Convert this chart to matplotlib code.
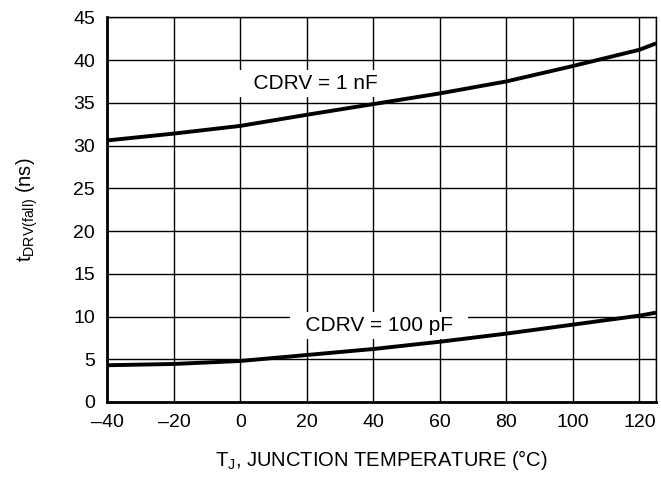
import matplotlib
matplotlib.use("Agg")
import matplotlib.pyplot as plt
import numpy as np

temps = [-40, -20, 0, 20, 40, 60, 80, 100, 120, 125]
t_1nF = [30.6, 31.4, 32.3, 33.6, 34.85, 36.1, 37.5, 39.3, 41.2, 41.95]
t_100pF = [4.3, 4.45, 4.8, 5.5, 6.2, 7.05, 8.0, 9.05, 10.1, 10.45]
xticks = [-40, -20, 0, 20, 40, 60, 80, 100, 120]
xticklabels = ["\u201340", "\u201320", "0", "20", "40", "60", "80", "100", "120"]
yticks = [0, 5, 10, 15, 20, 25, 30, 35, 40, 45]

plt.rcParams['font.family'] = ['Liberation Sans', 'DejaVu Sans']

fig = plt.figure(figsize=(6.61, 4.78), dpi=100)
ax = fig.add_axes([0.1626, 0.159, 0.8298, 0.8048])

ax.set_xlim(-40, 125)
ax.set_ylim(0, 45)
for x in xticks + [125]:
    ax.axvline(x, color='black', lw=1.0, zorder=1)
for y in yticks:
    ax.axhline(y, color='black', lw=1.0, zorder=1)

ax.plot(temps, t_1nF, color='black', lw=2.8, zorder=3, solid_capstyle='butt')
ax.plot(temps, t_100pF, color='black', lw=2.8, zorder=3, solid_capstyle='butt')

bbox = dict(facecolor='white', edgecolor='none', pad=3)
ax.text(41.4, 36.64, "  CDRV = 1 nF", ha='right', va='baseline', fontsize=15,
        bbox=bbox, zorder=2)
ax.text(41.66, 8.34, "  CDRV = 100 pF  ", ha='center', va='baseline', fontsize=15,
        bbox=bbox, zorder=2)

ax.set_xticks(xticks)
ax.set_xticklabels(xticklabels)
ax.set_yticks(yticks)
ax.tick_params(length=0, labelsize=14, pad=9)

for s in ['left', 'bottom']:
    ax.spines[s].set_linewidth(2.0)
    ax.spines[s].set_zorder(4)
for s in ['right', 'top']:
    ax.spines[s].set_linewidth(1.0)

ax.set_xlabel("T$_\\mathregular{J}$, JUNCTION TEMPERATURE (°C)", fontsize=14.5, labelpad=12)
ax.set_ylabel("t$_\\mathregular{DRV(fall)}$ (ns)", fontsize=14.5, labelpad=24)

fig.savefig("out.png", dpi=100)
